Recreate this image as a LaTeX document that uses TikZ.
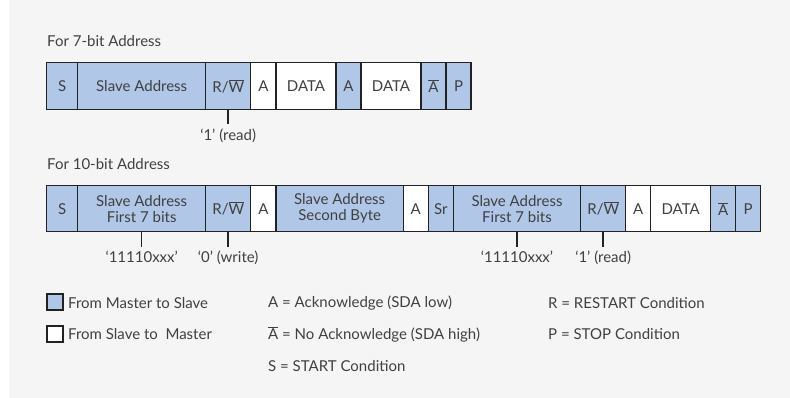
\documentclass[tikz,border=0pt]{standalone}
\usepackage{fontspec}
\setmainfont{Lato}
\usetikzlibrary{calc}
\definecolor{bg}{RGB}{245,245,245}
\definecolor{mblue}{RGB}{176,199,232}
\definecolor{edge}{RGB}{34,34,34}
\definecolor{txt}{RGB}{64,64,64}
\newcommand\ovl[1]{$\overline{\mbox{#1}}$}
\begin{document}
\begin{tikzpicture}[x=1pt,y=-1pt,
  every node/.style={text=txt, font=\fontsize{15}{16}\selectfont},
  cell/.style={draw=edge, line width=1.5pt, minimum height=47pt, inner sep=0pt, outer sep=0pt, anchor=west, align=center},
  bc/.style={cell, fill=mblue},
  wc/.style={cell, fill=white},
  lbl/.style={inner sep=4pt, outer sep=0pt, anchor=north},
  tick/.style={draw=edge, line width=1.5pt},
  leg/.style={anchor=west, inner sep=0pt},
  sq/.style={draw=edge, line width=1.5pt, minimum size=16pt, inner sep=0pt}]
\useasboundingbox (0,0) rectangle (790,398);
\fill[bg] (9,0) rectangle (790,398);
% row 1
\node[anchor=base west, inner sep=0pt] (h1) at (47,47) {For 7-bit Address};
\node[bc, minimum width=31] (a1) at (46.7,86) {S};
\node[bc, minimum width=128] (a2) at (a1.east) {Slave Address};
\node[bc, minimum width=45] (a3) at (a2.east) {R/\ovl{W}};
\node[wc, minimum width=25.3] (a4) at (a3.east) {A};
\node[wc, minimum width=60] (a5) at (a4.east) {DATA};
\node[bc, minimum width=25] (a6) at (a5.east) {A};
\node[wc, minimum width=60] (a7) at (a6.east) {DATA};
\node[bc, minimum width=25] (a8) at (a7.east) {\ovl{A}};
\node[bc, minimum width=25] (a9) at (a8.east) {P};
\node[lbl] (l1) at ($(a3.south)+(0,15)$) {‘1’ (read)};
\draw[tick] (a3.south) -- (l1.north);
% row 2
\node[anchor=base west, inner sep=0pt] (h2) at (47,170) {For 10-bit Address};
\node[bc, minimum width=31, minimum height=46] (b1) at (46.7,208.7) {S};
\node[bc, minimum width=128, minimum height=46] (b2) at (b1.east) {Slave Address\\First 7 bits};
\node[bc, minimum width=45, minimum height=46] (b3) at (b2.east) {R/\ovl{W}};
\node[wc, minimum width=25.3, minimum height=46] (b4) at (b3.east) {A};
\node[bc, minimum width=127.3, minimum height=46] (b5) at (b4.east) {Slave Address\\Second Byte};
\node[wc, minimum width=25, minimum height=46] (b6) at (b5.east) {A};
\node[bc, minimum width=25, minimum height=46] (b7) at (b6.east) {Sr};
\node[bc, minimum width=127.4, minimum height=46] (b8) at (b7.east) {Slave Address\\First 7 bits};
\node[bc, minimum width=45, minimum height=46] (b9) at (b8.east) {R/\ovl{W}};
\node[wc, minimum width=25, minimum height=46] (b10) at (b9.east) {A};
\node[wc, minimum width=60, minimum height=46] (b11) at (b10.east) {DATA};
\node[bc, minimum width=25, minimum height=46] (b12) at (b11.east) {\ovl{A}};
\node[bc, minimum width=25, minimum height=46] (b13) at (b12.east) {P};
\node[lbl] (l2) at ($(b2.south)+(0,15)$) {‘11110xxx’};
\node[lbl] (l3) at ($(b3.south)+(0,15)$) {‘0’ (write)};
\node[lbl] (l4) at ($(b8.south)+(0,15)$) {‘11110xxx’};
\node[lbl] (l5) at ($(b9.south)+(0,15)$) {‘1’ (read)};
\draw[tick] (b2.south) -- (l2.north);
\draw[tick] (b3.south) -- (l3.north);
\draw[tick] (b8.south) -- (l4.north);
\draw[tick] (b9.south) -- (l5.north);
% legend
\node[sq, fill=mblue] (k1) at (55,302) {};
\node[sq, fill=white] (k2) at (55,334) {};
\node[leg] (t1) at (68,303) {From Master to Slave};
\node[leg] (t2) at (68,334) {From Slave to\ \ Master};
\node[leg] (t3) at (268,303) {A = Acknowledge (SDA low)};
\node[leg] (t4) at (268,334) {\ovl{A} = No Acknowledge (SDA high)};
\node[leg] (t5) at (268,366) {S = START Condition};
\node[leg] (t6) at (548,303) {R = RESTART Condition};
\node[leg] (t7) at (548,334) {P = STOP Condition};
\end{tikzpicture}
\end{document}
